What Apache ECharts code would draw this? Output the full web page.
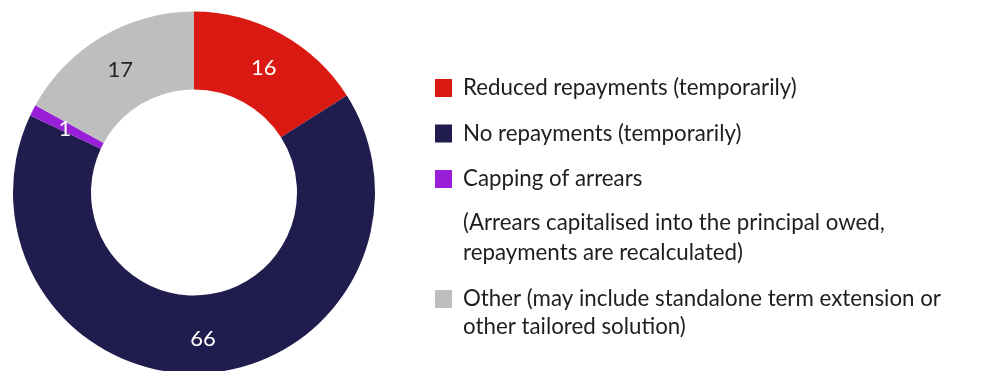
<!DOCTYPE html>
<html><head><meta charset="utf-8">
<script src="https://cdn.jsdelivr.net/npm/echarts@6/dist/echarts.min.js"></script>
<style>html,body{margin:0;padding:0;background:#fff}#c{width:1000px;height:371px}</style>
</head><body><div id="c"></div>
<script>
const categories = ["Reduced repayments (temporarily)", "No repayments (temporarily)", "Capping of arrears", "Other (may include standalone term extension or other tailored solution)"];
const values = [16, 66, 1, 17];
const colors = ["#DA1A12", "#201C4E", "#981ED8", "#BEBEBE"];
const labelColors = ["#ffffff", "#ffffff", "#ffffff", "#222222"];
const noteText = "(Arrears capitalised into the principal owed,\nrepayments are recalculated)";
const otherLine1 = "Other (may include standalone term extension or";
const otherLine2 = "other tailored solution)";

const FONT = "Lato";
const FS = 22.3;
const chart = echarts.init(document.getElementById('c'), null, {renderer: 'canvas'});
const legendText = {fontFamily: FONT, fontSize: FS, color: '#1e1e1e', lineHeight: 30, padding: [0, 0, 0, 6]};
chart.setOption({
  animation: false,
  legend: [
    {orient: 'vertical', left: 430, top: 68, itemWidth: 17, itemHeight: 18, itemGap: 15.5,
     icon: 'rect', data: categories.slice(0, 3), textStyle: legendText, selectedMode: false},
    {orient: 'vertical', left: 430, top: 279, itemWidth: 17, itemHeight: 18,
     icon: 'rect', data: [categories[3]], textStyle: legendText, selectedMode: false,
     formatter: () => otherLine1}
  ],
  graphic: [
    {type: 'text', left: 463, top: 208, style: {text: noteText, fontFamily: FONT, fontSize: FS, lineHeight: 30, fill: '#1e1e1e'}},
    {type: 'text', left: 463, top: 312, style: {text: otherLine2, fontFamily: FONT, fontSize: FS, lineHeight: 30, fill: '#1e1e1e'}}
  ],
  series: [{
    type: 'pie',
    center: [194, 192.5],
    radius: [103, 181],
    startAngle: 90,
    clockwise: true,
    avoidLabelOverlap: false,
    label: {show: true, position: 'inside', fontFamily: FONT, fontSize: 22, formatter: '{c}', offset: [0, 2]},
    labelLine: {show: false},
    itemStyle: {borderWidth: 0},
    emphasis: {disabled: true},
    data: categories.map((n, i) => ({name: n, value: values[i], itemStyle: {color: colors[i]}, label: {color: labelColors[i]}}))
  }]
});
</script></body></html>
